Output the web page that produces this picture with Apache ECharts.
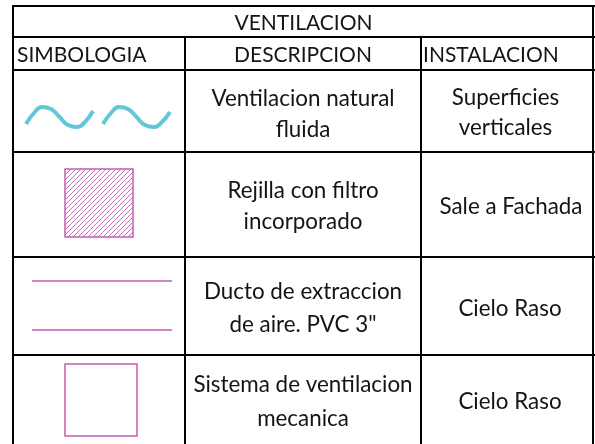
<!DOCTYPE html>
<html><head><meta charset="utf-8">
<script src="https://cdn.jsdelivr.net/npm/echarts@6/dist/echarts.min.js"></script>
<style>html,body{margin:0;padding:0;background:#fff}#c{width:595px;height:444px}</style>
</head><body><div id="c"></div>
<script>
// ---- content ----
const titleText = 'VENTILACION';
const headers = ['SIMBOLOGIA', 'DESCRIPCION', 'INSTALACION'];
const descriptions = [
  ['Ventilacion natural', 'fluida'],
  ['Rejilla con filtro', 'incorporado'],
  ['Ducto de extraccion', 'de aire. PVC 3"'],
  ['Sistema de ventilacion', 'mecanica']
];
const installations = [
  ['Superficies', 'verticales'],
  ['Sale a Fachada'],
  ['Cielo Raso'],
  ['Cielo Raso']
];
// symbol shapes (table coordinates)
const wave1 = [[26,124],[34,113],[42,107],[51,109],[59.5,117],[68,125],[77,127],[85,122],[93,111]];
const wave2 = [[103,124],[111,113],[119,107],[128,109],[136.5,117],[145,125],[154,127],[162,122],[170,112]];
const ductTop = [[32,281],[172,281]];
const ductBottom = [[32,330],[172,330]];
const hatchedSquare = [[65,169,133,237]];
const plainSquare = [[65,364,137,436]];

// ---- layout ----
const FONT = 'Lato';
const FS_HEAD = 21;
const FS_BODY = 22.4;
const W = 595, H = 444;
const left = 13, right = 600;
const rowLines = [6, 37, 70, 152, 257, 355, 450];
const colLines = [13, 185, 421, 593];
const descCenters = [113.8, 206.6, 308.3, 401.7];
const descLineH = [31, 31, 33, 34];
const instCenters = [112.5, 206.8, 309, 402];
const instLineH = [30, 30, 30, 30];
const instX = [505.5, 511, 510, 510];

const chart = echarts.init(document.getElementById('c'), null, {renderer: 'canvas'});

function hatchPattern() {
  const s = 5, c = document.createElement('canvas');
  c.width = s; c.height = s;
  const g = c.getContext('2d');
  g.strokeStyle = '#CE6CBE';
  g.lineWidth = 1;
  g.beginPath();
  g.moveTo(-1, s + 1); g.lineTo(s + 1, -1);
  g.moveTo(-1, 1); g.lineTo(1, -1);
  g.moveTo(s - 1, s + 1); g.lineTo(s + 1, s - 1);
  g.stroke();
  return {image: c, repeat: 'repeat'};
}
const pattern = hatchPattern();

const graphics = [];
function hline(y, x1, x2) {
  graphics.push({type: 'line', shape: {x1: x1, y1: y, x2: x2, y2: y}, style: {stroke: '#000', lineWidth: 2}, silent: true, z: 10});
}
function vline(x, y1, y2) {
  graphics.push({type: 'line', shape: {x1: x, y1: y1, x2: x, y2: y2}, style: {stroke: '#000', lineWidth: 2}, silent: true, z: 10});
}
rowLines.forEach(y => hline(y, left - 1, right));
vline(colLines[0], rowLines[0] - 1, H + 5);
vline(colLines[1], rowLines[1], H + 5);
vline(colLines[2], rowLines[1], H + 5);
vline(colLines[3], rowLines[0] - 1, H + 5);

function txt(str, x, y, fs, lh, align) {
  graphics.push({type: 'text', x: x, y: y, silent: true, z: 11,
    style: {text: str, fill: '#141414', font: fs + 'px ' + FONT, align: align || 'center', verticalAlign: 'middle', lineHeight: lh}});
}
txt(titleText, 303.5, 22.9, FS_HEAD, 26);
txt(headers[0], 17, 55.2, FS_HEAD, 26, 'left');
txt(headers[1], (colLines[1] + colLines[2]) / 2, 55.2, FS_HEAD, 26);
txt(headers[2], 423, 55.2, FS_HEAD, 26, 'left');
descriptions.forEach((d, i) => txt(d.join('\n'), (colLines[1] + colLines[2]) / 2, descCenters[i], FS_BODY, descLineH[i]));
installations.forEach((d, i) => txt(d.join('\n'), instX[i], instCenters[i], FS_BODY, instLineH[i]));

const magenta = '#C65BB3';
function squareSeries(data, hatched) {
  return {
    type: 'custom', data: data, silent: true, z: 5,
    renderItem: function (params, api) {
      const p0 = api.coord([api.value(0), api.value(1)]);
      const p1 = api.coord([api.value(2), api.value(3)]);
      return {type: 'rect', shape: {x: p0[0], y: p0[1], width: p1[0] - p0[0], height: p1[1] - p0[1]},
        style: {fill: hatched ? pattern : 'none', stroke: magenta, lineWidth: 1.5}};
    }
  };
}
function lineSeries(data, color, width, smooth) {
  return {type: 'line', data: data, smooth: smooth, showSymbol: false, silent: true,
    lineStyle: {color: color, width: width, cap: 'butt'}, z: 5};
}

chart.setOption({
  animation: false,
  backgroundColor: '#fff',
  grid: {left: 0, right: 0, top: 0, bottom: 0},
  xAxis: {type: 'value', min: 0, max: W, show: false},
  yAxis: {type: 'value', min: 0, max: H, inverse: true, show: false},
  series: [
    lineSeries(wave1, '#62C7D7', 4, 0.5),
    lineSeries(wave2, '#62C7D7', 4, 0.5),
    lineSeries(ductTop, magenta, 1.5, false),
    lineSeries(ductBottom, magenta, 1.5, false),
    squareSeries(hatchedSquare, true),
    squareSeries(plainSquare, false)
  ],
  graphic: graphics
});
</script></body></html>
